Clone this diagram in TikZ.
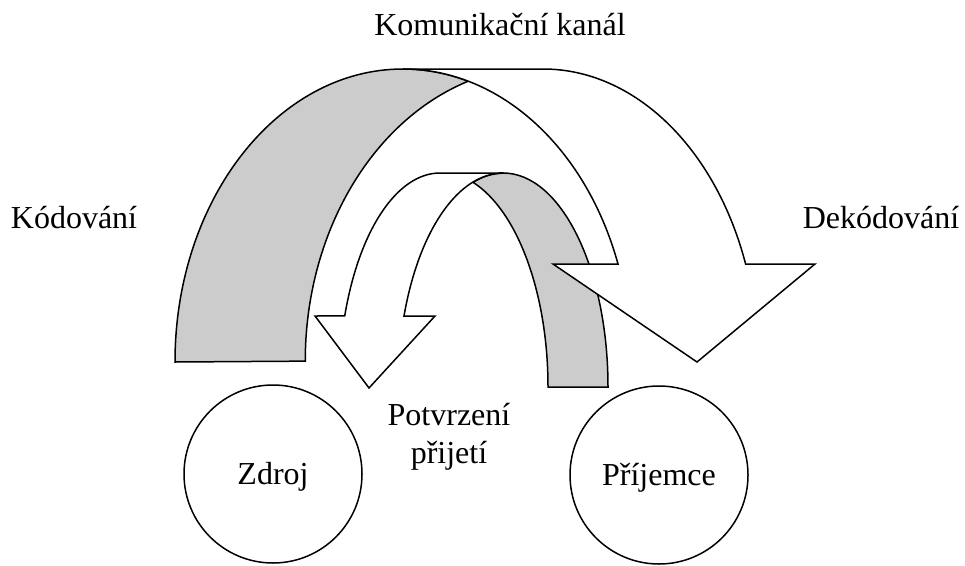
\documentclass[tikz,border=0pt]{standalone}
\usepackage{fontspec}
\setmainfont{Liberation Serif}
\definecolor{bandgray}{RGB}{204,204,204}
\begin{document}
\begin{tikzpicture}[x=1pt,y=-1pt,
  font=\fontsize{32}{38}\selectfont,
  outline/.style={draw=black,line width=1.5pt,line join=miter},
  backband/.style={outline,fill=bandgray},
  frontband/.style={outline,fill=white},
  label/.style={inner sep=0pt,anchor=base},
  party/.style={circle,draw=black,line width=1.5pt,minimum size=178pt,inner sep=0pt,
    text height=27pt,text depth=7pt}]
\useasboundingbox (0,0) rectangle (965,565);

% Feedback arrow (Potvrzení přijetí): shaded back half
\path[backband] (503,173)
  arc[start angle=90,end angle=0,x radius=105pt,y radius=214pt]
  -- (548,387)
  arc[start angle=0,end angle=72.2,x radius=108pt,y radius=215pt]
  arc[start angle=106.8,end angle=90,x radius=105pt,y radius=214pt]
  -- cycle;
% Feedback arrow: front half with the head
\path[frontband] (503,173) -- (440,173)
  arc[start angle=90,end angle=160.6,x radius=101pt,y radius=214pt]
  -- (315,316) -- (369,388) -- (435,316) -- (404,316)
  arc[start angle=160.6,end angle=90,x radius=105pt,y radius=214pt]
  -- cycle;

% Channel arrow (Komunikační kanál): shaded back half
\path[backband] (175,362)
  arc[start angle=180,end angle=90,x radius=228pt,y radius=293pt]
  arc[start angle=90,end angle=73.4,x radius=228pt,y radius=293pt]
  arc[start angle=108.4,end angle=180,x radius=238pt,y radius=295pt]
  -- cycle;
% Channel arrow: front half with the head
\path[frontband] (403,69) -- (543,69)
  arc[start angle=90,end angle=19.54,x radius=215pt,y radius=293pt]
  -- (815,264) -- (697,362) -- (553,264) -- (618,264)
  arc[start angle=19.54,end angle=90,x radius=228pt,y radius=293pt]
  -- cycle;

% Parties
\node[party] (zdroj) at (273,474) {Zdroj};
\node[party] (prijemce) at (659,475) {Příjemce};

% Labels
\node[label] (kanal) at (500,35) {Komunikační kanál};
\node[label] (kodovani) at (74,228) {Kódování};
\node[label] (dekodovani) at (881,228) {Dekódování};
\node[label,align=center] (potvrzeni) at (449,463) {Potvrzení\\přijetí};
\end{tikzpicture}
\end{document}
